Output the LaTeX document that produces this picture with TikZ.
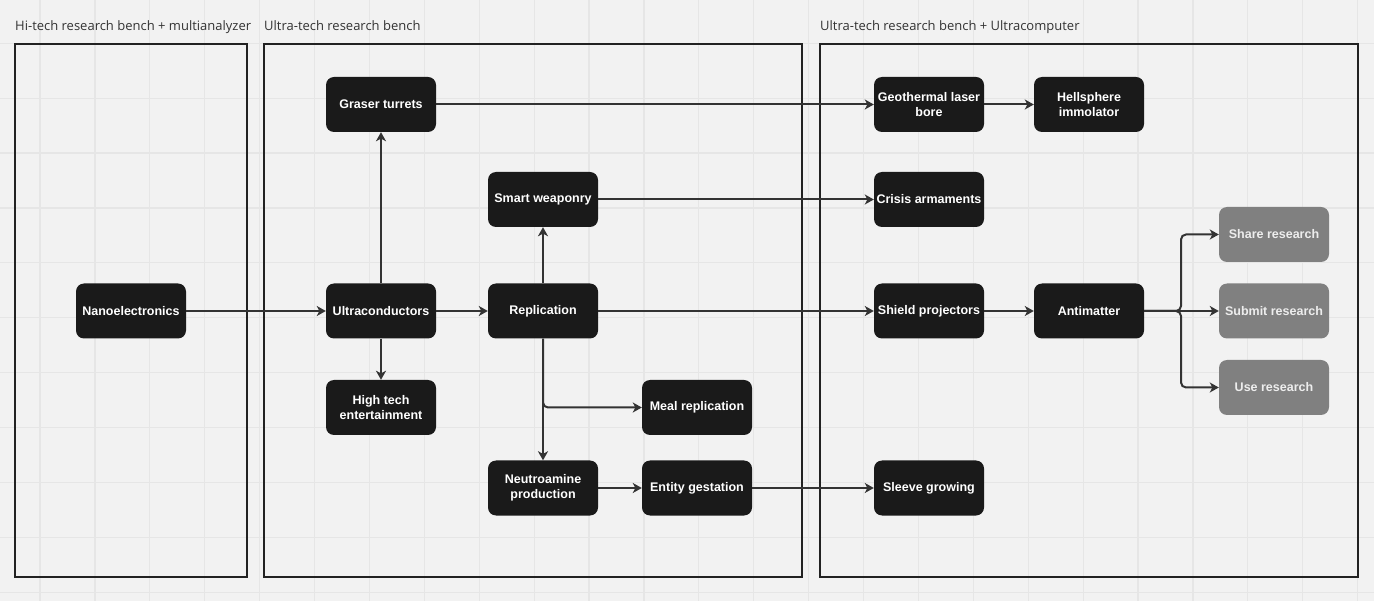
\documentclass[tikz,border=0pt]{standalone}
\usepackage{fontspec}
\setmainfont{Liberation Sans}
\newfontfamily\labelfont{Open Sans}
\usetikzlibrary{arrows.meta}
\definecolor{bgcol}{HTML}{F2F2F2}
\definecolor{gridcol}{HTML}{E6E6E6}
\definecolor{framecol}{HTML}{222222}
\definecolor{nodedark}{HTML}{1A1A1A}
\definecolor{nodegray}{HTML}{808080}
\definecolor{edgecol}{HTML}{333333}
\definecolor{labelcol}{HTML}{333333}
\tikzset{
  box/.style={rectangle, rounded corners=8pt, fill=nodedark, text=white,
    minimum width=110pt, minimum height=55pt, inner sep=2pt, align=center,
    font=\bfseries\fontsize{12.5}{15}\selectfont},
  graybox/.style={box, fill=nodegray, text=white!93!black},
  frame/.style={draw=framecol, line width=2.5pt},
  lane/.style={anchor=base west, text=labelcol, font=\labelfont\fontsize{13}{15}\selectfont, inner sep=0pt},
  conn/.style={draw=edgecol, line width=2pt, -{Stealth[length=9pt,width=10pt,inset=2.5pt]}},
}
\begin{document}
\begin{tikzpicture}[x=1pt,y=-1pt]
\fill[bgcol] (0,0) rectangle (1374,601);
\useasboundingbox (0,0) rectangle (1374,601);
% grid
\foreach \i in {0,...,24} \draw[gridcol, line width=1.2pt] ({40+54.9*\i},0) -- ({40+54.9*\i},601);
\foreach \j in {0,...,10} \draw[gridcol, line width=1.2pt] (0,{43.3+54.9*\j}) -- (1374,{43.3+54.9*\j});
% frames
\draw[frame] (15,44) rectangle (247,577);
\draw[frame] (264,44) rectangle (802,577);
\draw[frame] (820,44) rectangle (1358,577);
\node[lane] (l1) at (15,31) {Hi-tech research bench + multianalyzer};
\node[lane] (l2) at (264,31) {Ultra-tech research bench};
\node[lane] (l3) at (820,31) {Ultra-tech research bench + Ultracomputer};
% nodes
\node[box] (graser) at (381,104.5) {Graser turrets};
\node[box] (geo) at (929,104.5) {Geothermal laser\\bore};
\node[box] (hell) at (1089,104.5) {Hellsphere\\immolator};
\node[box] (smart) at (543,199.5) {Smart weaponry};
\node[box] (crisis) at (929,199.5) {Crisis armaments};
\node[box] (nano) at (131,311) {Nanoelectronics};
\node[box] (ultra) at (381,311) {Ultraconductors};
\node[box] (rep) at (543,311) {Replication};
\node[box] (shield) at (929,311) {Shield projectors};
\node[box] (anti) at (1089,311) {Antimatter};
\node[graybox] (share) at (1274,234.5) {Share research};
\node[graybox] (submit) at (1274,311) {Submit research};
\node[graybox] (use) at (1274,387.5) {Use research};
\node[box] (ht) at (381,407.5) {High tech\\entertainment};
\node[box] (meal) at (697,407.5) {Meal replication};
\node[box] (neut) at (543,488) {Neutroamine\\production};
\node[box] (ent) at (697,488) {Entity gestation};
\node[box] (sleeve) at (929,488) {Sleeve growing};
% connectors
\draw[conn] (graser) -- (geo);
\draw[conn] (geo) -- (hell);
\draw[conn] (smart) -- (crisis);
\draw[conn] (nano) -- (ultra);
\draw[conn] (ultra) -- (graser);
\draw[conn] (ultra) -- (ht);
\draw[conn] (ultra) -- (rep);
\draw[conn] (rep) -- (smart);
\draw[conn] (rep) -- (shield);
\draw[conn] (shield) -- (anti);
\draw[conn, rounded corners=5pt] (rep.south) |- (meal.west);
\draw[conn] (rep) -- (neut);
\draw[conn] (neut) -- (ent);
\draw[conn] (ent) -- (sleeve);
\coordinate (br) at (1181,311);
\draw[conn, rounded corners=5pt] (anti.east) -- (br) |- (share.west);
\draw[conn] (anti) -- (submit);
\draw[conn, rounded corners=5pt] (anti.east) -- (br) |- (use.west);
\end{tikzpicture}
\end{document}
